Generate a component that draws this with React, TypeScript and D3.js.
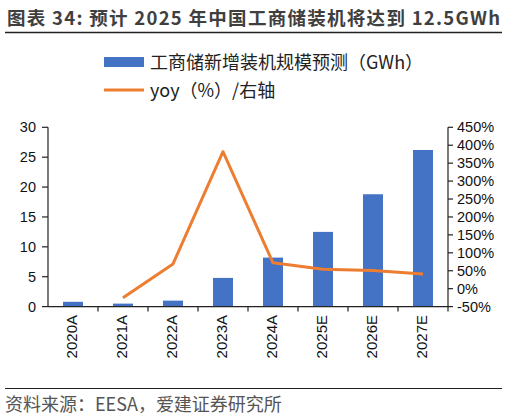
import React from "react";
import * as d3 from "d3";

const categories = ["2020A", "2021A", "2022A", "2023A", "2024A", "2025E", "2026E", "2027E"];
const capacity = [0.8, 0.5, 1.0, 4.8, 8.2, 12.5, 18.8, 26.2];
const yoy: (number | null)[] = [null, -25, 69, 382, 72, 54, 51, 41];
const leftTicks = [0, 5, 10, 15, 20, 25, 30];
const rightTicks = [-50, 0, 50, 100, 150, 200, 250, 300, 350, 400, 450];

const W = 521;
const H = 419;
const plot = { left: 48, right: 448, top: 127.3, bottom: 306.6 };
const BLUE = "#4472C4";
const ORANGE = "#ED7D31";
const CJK = "'Noto Sans CJK SC', 'Noto Sans', sans-serif";
const NUM = "'Liberation Sans', Arial, sans-serif";

export default function App() {
  const x = d3.scaleBand<string>().domain(categories).range([plot.left, plot.right]).paddingInner(0.6).paddingOuter(0.3);
  const xb = d3.scaleBand<string>().domain(categories).range([plot.left, plot.right]);
  const yL = d3.scaleLinear().domain([0, 30]).range([plot.bottom, plot.top]);
  const yR = d3.scaleLinear().domain([-50, 450]).range([plot.bottom, plot.top]);

  const pts = categories
    .map((c, i) => ({ c, v: yoy[i] }))
    .filter((d) => d.v !== null) as { c: string; v: number }[];
  const line = d3
    .line<{ c: string; v: number }>()
    .x((d) => (xb(d.c) as number) + xb.bandwidth() / 2)
    .y((d) => yR(d.v));

  const axisColor = "#222";

  return (
    <svg width={W} height={H} style={{ position: "absolute", left: 0, top: 0, background: "#fff" }}>
      {/* Title */}
      <text
        x={7}
        y={24.5}
        fontFamily={CJK}
        fontWeight={700}
        fontSize={18.5}
        fill="#3f3f3f"
        textLength={493}
        lengthAdjust="spacing"
      >
        图表 34: 预计 2025 年中国工商储装机将达到 12.5GWh
      </text>
      <line x1={5} x2={502} y1={32.5} y2={32.5} stroke="#222" strokeWidth={1.5} />

      {/* Legend */}
      <rect x={104} y={57} width={40} height={10} fill={BLUE} />
      <text x={150} y={68.5} fontFamily={CJK} fontSize={18} fill="#222">
        工商储新增装机规模预测（GWh）
      </text>
      <line x1={104} x2={144} y1={90} y2={90} stroke={ORANGE} strokeWidth={3} />
      <text x={150} y={96.5} fontFamily={CJK} fontSize={18} fill="#222">
        yoy（%）/右轴
      </text>

      {/* Bars */}
      {categories.map((c, i) => (
        <rect
          key={c}
          x={x(c)}
          y={yL(capacity[i])}
          width={x.bandwidth()}
          height={plot.bottom - yL(capacity[i])}
          fill={BLUE}
        />
      ))}

      {/* Line */}
      <path d={line(pts) || ""} fill="none" stroke={ORANGE} strokeWidth={3} strokeLinejoin="round" />

      {/* Left axis */}
      <line x1={plot.left} x2={plot.left} y1={plot.top} y2={plot.bottom} stroke={axisColor} strokeWidth={1.2} />
      {leftTicks.map((t) => (
        <g key={t}>
          <line x1={plot.left - 6} x2={plot.left} y1={yL(t)} y2={yL(t)} stroke={axisColor} strokeWidth={1.2} />
          <text x={plot.left - 12} y={yL(t)} dy="0.35em" textAnchor="end" fontFamily={NUM} fontSize={14.5} fill="#111">
            {t}
          </text>
        </g>
      ))}

      {/* Right axis */}
      <line x1={plot.right} x2={plot.right} y1={plot.top} y2={plot.bottom} stroke={axisColor} strokeWidth={1.2} />
      {rightTicks.map((t) => (
        <g key={t}>
          <line x1={plot.right} x2={plot.right + 5} y1={yR(t)} y2={yR(t)} stroke={axisColor} strokeWidth={1.2} />
          <text x={plot.right + 9} y={yR(t)} dy="0.35em" textAnchor="start" fontFamily={NUM} fontSize={14.5} fill="#111">
            {t}%
          </text>
        </g>
      ))}

      {/* X axis */}
      <line x1={plot.left} x2={plot.right} y1={plot.bottom} y2={plot.bottom} stroke={axisColor} strokeWidth={1.2} />
      {categories.map((c) => (
        <line
          key={"t" + c}
          x1={(xb(c) as number) + xb.bandwidth()}
          x2={(xb(c) as number) + xb.bandwidth()}
          y1={plot.bottom}
          y2={plot.bottom + 5}
          stroke={axisColor}
          strokeWidth={1.2}
        />
      ))}
      {categories.map((c) => {
        const cx = (xb(c) as number) + xb.bandwidth() / 2;
        return (
          <text
            key={"l" + c}
            transform={`translate(${cx - 1},${315}) rotate(-90)`}
            textAnchor="end"
            dy="0.35em"
            fontFamily={NUM}
            fontSize={15}
            fill="#111"
          >
            {c}
          </text>
        );
      })}

      {/* Source */}
      <line x1={5} x2={502} y1={388.5} y2={388.5} stroke="#222" strokeWidth={1} />
      <text x={5} y={411} fontFamily={CJK} fontSize={18} fill="#555">
        资料来源：EESA，爱建证券研究所
      </text>
    </svg>
  );
}
